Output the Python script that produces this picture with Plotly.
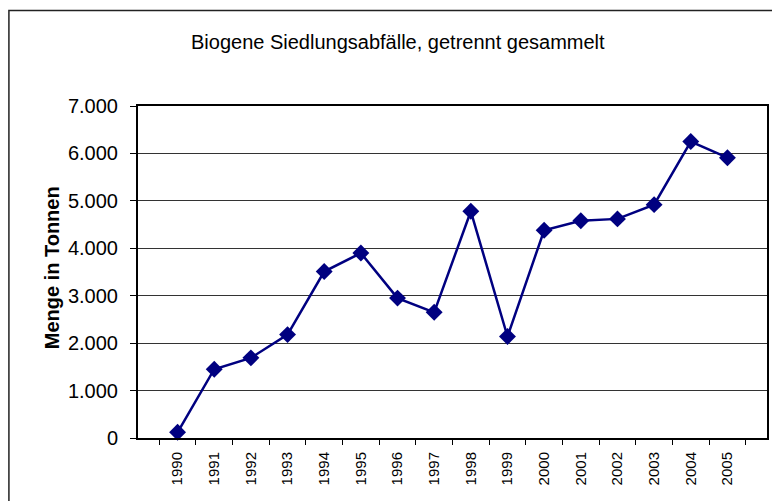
import plotly.graph_objects as go

years = ["1990", "1991", "1992", "1993", "1994", "1995", "1996", "1997",
         "1998", "1999", "2000", "2001", "2002", "2003", "2004", "2005"]
tonnen = [120, 1450, 1690, 2180, 3510, 3900, 2950, 2650,
          4780, 2140, 4380, 4580, 4620, 4920, 6250, 5910]
y_ticks = [0, 1000, 2000, 3000, 4000, 5000, 6000, 7000]

title_text = "Biogene Siedlungsabfälle, getrennt gesammelt"
y_title = "Menge in Tonnen"

OFF = 8  # page body margin
W, H = 780 - OFF, 501 - OFF
L, T = 138 - OFF, 106 - OFF
pw, ph = 631, 332
R, B = W - L - pw, H - T - ph

def px_x(px):
    return (px - OFF - L) / pw

def px_y(py):
    return (T + ph - (py - OFF)) / ph

fig = go.Figure()
fig.add_trace(go.Scatter(
    x=years, y=tonnen, mode="lines+markers",
    line=dict(color="#000080", width=2.5),
    marker=dict(symbol="diamond", size=13, color="#000080"),
    cliponaxis=False, showlegend=False,
))

font = "Liberation Sans, Arial, sans-serif"
fig.update_layout(
    width=W, height=H,
    margin=dict(l=L, r=R, t=T, b=B),
    paper_bgcolor="white", plot_bgcolor="white",
    separators=",.",
    font=dict(family=font, color="black"),
    xaxis=dict(
        type="category", tickson="boundaries",
        showline=True, linecolor="black", linewidth=2, mirror=True,
        ticks="outside", ticklen=5, tickwidth=1, tickcolor="black",
        tickangle=-90, tickfont=dict(size=15, family=font),
        ticklabelstandoff=6,
        showgrid=False,
    ),
    yaxis=dict(
        range=[0, 7000], tickvals=y_ticks, tickformat=",d",
        showline=True, linecolor="black", linewidth=2, mirror=True,
        ticks="outside", ticklen=6, tickwidth=1, tickcolor="black",
        tickfont=dict(size=20, family=font),
        ticklabelstandoff=8,
        showgrid=True, gridcolor="#333333", gridwidth=1,
        zeroline=False,
    ),
    annotations=[
        dict(text=title_text, x=px_x(399), y=px_y(42), xref="paper", yref="paper",
             showarrow=False, font=dict(size=20, family=font),
             xanchor="center", yanchor="middle"),
        dict(text="<b>" + y_title + "</b>", x=px_x(52), y=px_y(268),
             xref="paper", yref="paper", showarrow=False, textangle=-90,
             font=dict(size=20, family=font), xanchor="center", yanchor="middle"),
    ],
    shapes=[
        dict(type="rect", xref="paper", yref="paper",
             x0=px_x(8.5), x1=px_x(800), y0=px_y(520), y1=px_y(10.5),
             line=dict(color="#222222", width=1.5), layer="below"),
    ],
)

fig.write_html("out.html")
